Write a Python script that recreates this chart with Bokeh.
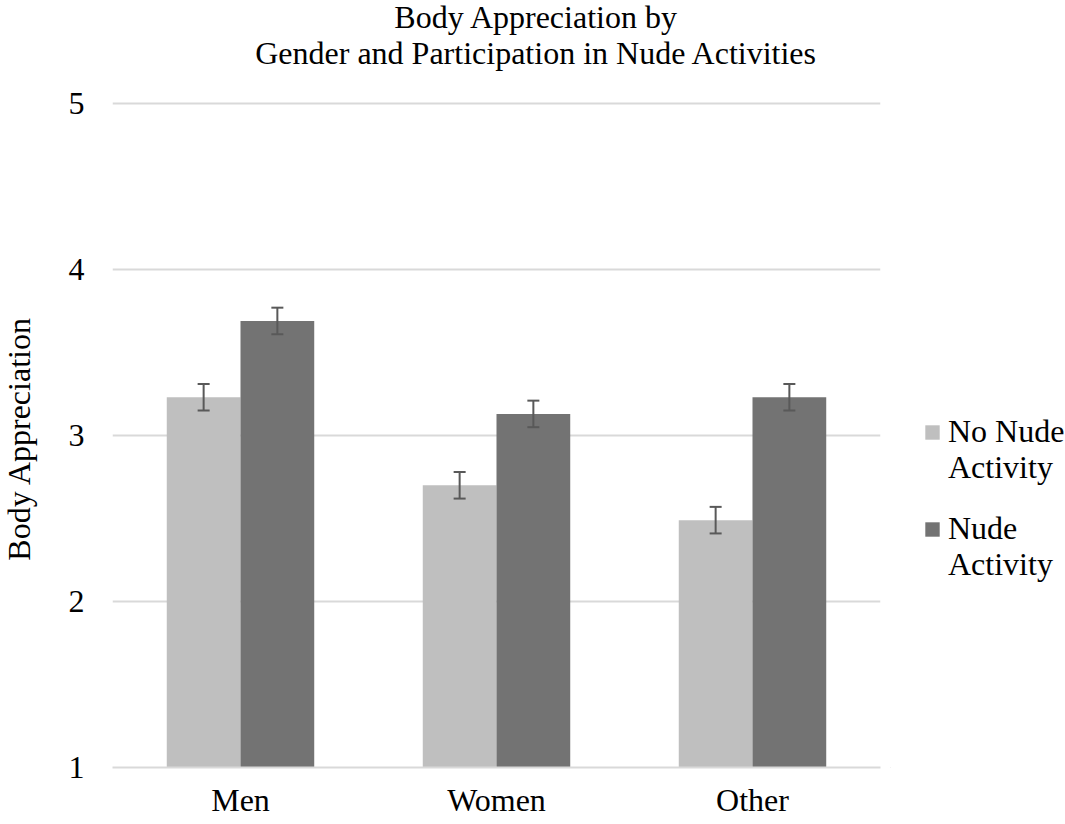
import math
from bokeh.plotting import figure
from bokeh.models import (ColumnDataSource, FactorRange, Range1d, Whisker, TeeHead,
                          Legend, LegendItem, Label, FixedTicker)
from bokeh.layouts import row, column
from bokeh.transform import dodge
from bokeh.embed import file_html
from bokeh.resources import INLINE
from bokeh.core.properties import value

# ---- data ----
categories = ["Men", "Women", "Other"]
series_first_line = ["No Nude", "Nude"]
series_second_line = ["Activity", "Activity"]
no_nude = [3.23, 2.70, 2.49]
nude = [3.69, 3.13, 3.23]
no_nude_err = [0.08, 0.08, 0.08]
nude_err = [0.08, 0.08, 0.08]
y_ticks = [1, 2, 3, 4, 5]
title_lines = ["Body Appreciation by", "Gender and Participation in Nude Activities"]
y_label = "Body Appreciation"

# ---- style ----
FONT = "Liberation Serif"
FS = "32px"
LIGHT = "#bfbfbf"
DARK = "#737373"
ERR = "#595959"
GRID = "#d9d9d9"
BAR_W = 0.288
OFF = 0.144
W, H = 1065, 824
TITLE_H = 75
LEFT_W = 40
MAIN_W = 850
BODY_H = H - TITLE_H


def bare(fig):
    fig.outline_line_color = None
    fig.xgrid.visible = False
    fig.ygrid.visible = False
    fig.background_fill_color = "white"
    fig.border_fill_color = "white"


def strip(w, h):
    f = figure(width=w, height=h, x_range=Range1d(0, w), y_range=Range1d(0, h),
               output_backend="svg", toolbar_location=None,
               x_axis_location=None, y_axis_location=None, min_border=0)
    bare(f)
    return f


# ---- title strip ----
tf = strip(W, TITLE_H)
for txt, yy in zip(title_lines, [59, 23]):
    tf.add_layout(Label(x=536, y=yy, text=txt, text_align="center",
                        text_baseline="alphabetic", text_font=FONT,
                        text_font_size=FS, text_color="black"))

# ---- y-axis title strip ----
lf = strip(LEFT_W, BODY_H)
lf.add_layout(Label(x=18, y=370, text=y_label, angle=math.pi / 2,
                    text_align="center", text_baseline="middle",
                    text_font=FONT, text_font_size=FS, text_color="black"))

# ---- main chart ----
src = ColumnDataSource(dict(
    cat=categories,
    no=no_nude,
    nude=nude,
    base=[y_ticks[0]] * len(categories),
    no_lo=[v - e for v, e in zip(no_nude, no_nude_err)],
    no_hi=[v + e for v, e in zip(no_nude, no_nude_err)],
    nu_lo=[v - e for v, e in zip(nude, nude_err)],
    nu_hi=[v + e for v, e in zip(nude, nude_err)],
))

p = figure(width=MAIN_W, height=BODY_H, title=None,
           x_range=FactorRange(factors=categories, range_padding=0),
           y_range=Range1d(y_ticks[0], y_ticks[-1] + 0.012),
           output_backend="svg", toolbar_location=None,
           min_border_left=112 - LEFT_W, min_border_right=10,
           min_border_top=101 - TITLE_H, min_border_bottom=57)
p.outline_line_color = None
p.background_fill_color = "white"
p.border_fill_color = "white"

p.vbar(x=dodge("cat", -OFF, range=p.x_range), top="no", bottom="base",
       width=BAR_W, source=src, fill_color=LIGHT, line_color=None)
p.vbar(x=dodge("cat", OFF, range=p.x_range), top="nude", bottom="base",
       width=BAR_W, source=src, fill_color=DARK, line_color=None)

for off, lo, hi in [(-OFF, "no_lo", "no_hi"), (OFF, "nu_lo", "nu_hi")]:
    w = Whisker(source=src, base=dodge("cat", off, range=p.x_range),
                lower=lo, upper=hi, line_color=ERR, line_width=2, level="annotation",
                upper_head=TeeHead(size=12, line_color=ERR, line_width=2),
                lower_head=TeeHead(size=12, line_color=ERR, line_width=2))
    p.add_layout(w)

p.yaxis.ticker = FixedTicker(ticks=y_ticks)
p.yaxis.axis_line_color = None
p.yaxis.major_tick_line_color = None
p.yaxis.minor_tick_line_color = None
p.yaxis.major_label_standoff = 22
p.yaxis.major_label_text_font = FONT
p.yaxis.major_label_text_font_size = FS
p.yaxis.major_label_text_color = "black"

p.xaxis.axis_line_color = GRID
p.xaxis.axis_line_width = 2
p.xaxis.major_tick_line_color = None
p.xaxis.minor_tick_line_color = None
p.xaxis.major_label_text_line_height = 0.9
p.xaxis.major_label_standoff = 8
p.xaxis.major_label_text_font = FONT
p.xaxis.major_label_text_font_size = FS
p.xaxis.major_label_text_color = "black"

p.ygrid.ticker = FixedTicker(ticks=y_ticks)
p.ygrid.grid_line_color = GRID
p.ygrid.grid_line_width = 2
p.xgrid.grid_line_color = None

# ---- legend strip (to the right of the chart) ----
lg = figure(width=W - LEFT_W - MAIN_W, height=BODY_H, x_range=Range1d(0, 1), y_range=Range1d(0, 1),
            output_backend="svg", toolbar_location=None,
            x_axis_location=None, y_axis_location=None, min_border=0)
bare(lg)
# swatch carriers: one point each, outside the strip's visible range
sw_light = lg.vbar(x=[-1], top=[-1], bottom=[-1], width=0.1, fill_color=LIGHT, line_color=None)
sw_dark = lg.vbar(x=[-1], top=[-1], bottom=[-1], width=0.1, fill_color=DARK, line_color=None)
sw_blank = lg.vbar(x=[-1], top=[-1], bottom=[-1], width=0.1, fill_color=None, line_color=None)

common = dict(orientation="vertical", label_text_font=FONT, label_text_font_size=FS,
              label_text_color="black", glyph_width=18, glyph_height=18,
              label_standoff=7, spacing=60, padding=0, margin=0,
              border_line_color=None, background_fill_alpha=0)
legend_a = Legend(items=[LegendItem(label=value(series_first_line[0]), renderers=[sw_light]),
                         LegendItem(label=value(series_first_line[1]), renderers=[sw_dark])],
                  location=(33, 220), **common)
legend_b = Legend(items=[LegendItem(label=value(series_second_line[0]), renderers=[sw_blank]),
                         LegendItem(label=value(series_second_line[1]), renderers=[sw_blank])],
                  location=(33, 184), **common)
lg.add_layout(legend_a)
lg.add_layout(legend_b)

layout = column(tf, row(lf, p, lg, spacing=0), spacing=0)
open("out.html", "w").write(file_html(layout, INLINE))
